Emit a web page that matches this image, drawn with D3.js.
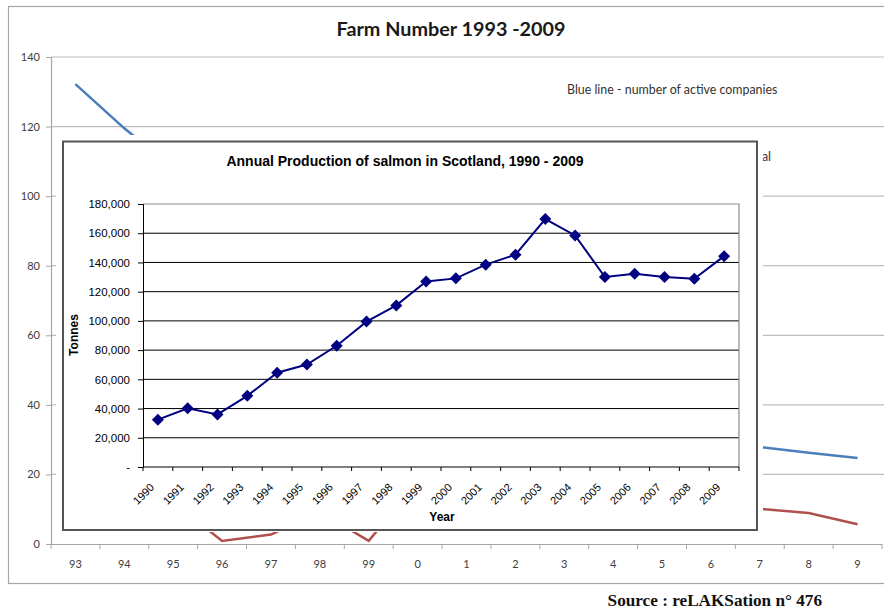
<!DOCTYPE html>
<html>
<head>
<meta charset="utf-8">
<script src="https://cdn.jsdelivr.net/npm/d3@7/dist/d3.min.js"></script>
<style>
  html, body { margin: 0; padding: 0; background: #fff; }
  svg { display: block; }
</style>
</head>
<body>
<svg id="chart" width="884" height="611"></svg>
<script>
// ---------- Background chart: Farm Number 1993-2009 ----------
const farmYears = ["93","94","95","96","97","98","99","0","1","2","3","4","5","6","7","8","9"];
const activeCompanies = [132.2, 119.5, 108, 96, 85, 74, 64, 55, 48, 42, 37, 34, 31.5, 29.5, 27.9, 26.2, 24.7];
const redSeries = [14, 9, 12, 0.9, 2.7, 9.2, 0.9, 18, 16, 14, 13, 12, 11.5, 11, 10.1, 8.9, 5.7];
const farmTicks = [0, 20, 40, 60, 80, 100, 120, 140];

// ---------- Inset chart: Annual Production of salmon ----------
const prodYears = ["1990","1991","1992","1993","1994","1995","1996","1997","1998","1999",
                   "2000","2001","2002","2003","2004","2005","2006","2007","2008","2009"];
const tonnes = [32400, 40200, 36000, 48700, 64500, 70100, 83000, 99500, 110600, 127000,
                129100, 138500, 145300, 169700, 158500, 130000, 132200, 130000, 128800, 144300];
const tonnesTicks = [0, 20000, 40000, 60000, 80000, 100000, 120000, 140000, 160000, 180000];

const svg = d3.select("#chart");
svg.append("rect").attr("width", 884).attr("height", 611).attr("fill", "#fff");

// outer frame
svg.append("rect").attr("x", 8.5).attr("y", 6.5).attr("width", 900).attr("height", 577)
  .attr("fill", "none").attr("stroke", "#a6a6a6").attr("stroke-width", 1.2);

const bgFont = "Lato, 'Open Sans', sans-serif";

svg.append("text").attr("x", 451).attr("y", 36).attr("text-anchor", "middle")
  .attr("font-family", bgFont).attr("font-weight", "bold").attr("font-size", 19.8)
  .attr("fill", "#1a1a1a").text("Farm Number 1993 -2009");

const fx = d3.scaleBand().domain(farmYears).range([51, 882]);
const fy = d3.scaleLinear().domain([0, 140]).range([544, 57]);

// gridlines
svg.append("g").selectAll("line").data(farmTicks.filter(d => d > 0)).join("line")
  .attr("x1", 51).attr("x2", 884).attr("y1", d => fy(d)).attr("y2", d => fy(d))
  .attr("stroke", "#bdbdbd").attr("stroke-width", 1.2);

// y axis
const fyAxis = svg.append("g").attr("transform", "translate(51,0)")
  .call(d3.axisLeft(fy).tickValues(farmTicks).tickSize(5).tickPadding(6));
fyAxis.select(".domain").attr("stroke", "#a6a6a6").attr("stroke-width", 1.2);
fyAxis.selectAll(".tick line").attr("stroke", "#a6a6a6");
fyAxis.selectAll("text").attr("font-family", bgFont).attr("font-size", 11).attr("fill", "#404040");

// x axis
const fxAxis = svg.append("g").attr("transform", "translate(0,544)")
  .call(d3.axisBottom(fx).tickSize(0).tickPadding(16));
fxAxis.select(".domain").attr("stroke", "#a6a6a6").attr("stroke-width", 1.2);
fxAxis.selectAll("text").attr("font-family", bgFont).attr("font-size", 11).attr("fill", "#404040");
svg.append("g").selectAll("line").data(farmYears).join("line")
  .attr("x1", d => fx(d)).attr("x2", d => fx(d)).attr("y1", 544).attr("y2", 549)
  .attr("stroke", "#a6a6a6");
svg.append("line").attr("x1", fx.range()[1]).attr("x2", fx.range()[1]).attr("y1", 544).attr("y2", 549)
  .attr("stroke", "#a6a6a6");

const fLine = d3.line().x((d, i) => fx(farmYears[i]) + fx.bandwidth() / 2).y(d => fy(d));
svg.append("path").datum(activeCompanies).attr("d", fLine)
  .attr("fill", "none").attr("stroke", "#4a7ebb").attr("stroke-width", 2.5);
svg.append("path").datum(redSeries).attr("d", fLine)
  .attr("fill", "none").attr("stroke", "#b0504d").attr("stroke-width", 2.5);

svg.append("text").attr("x", 567).attr("y", 94)
  .attr("font-family", bgFont).attr("font-size", 12.4).attr("fill", "#333")
  .text("Blue line - number of active companies");
svg.append("text").attr("x", 771).attr("y", 161).attr("text-anchor", "end")
  .attr("font-family", bgFont).attr("font-size", 12.4).attr("fill", "#333")
  .text("Red line - number of farms in general");

// ---------- Inset ----------
const inFont = "'Liberation Sans', Arial, sans-serif";
svg.append("rect").attr("x", 56).attr("y", 135).attr("width", 707).attr("height", 397).attr("fill", "#fff");
svg.append("rect").attr("x", 63).attr("y", 141.5).attr("width", 694).attr("height", 388.5)
  .attr("fill", "#fff").attr("stroke", "#555").attr("stroke-width", 2);

svg.append("text").attr("x", 405).attr("y", 166).attr("text-anchor", "middle")
  .attr("font-family", inFont).attr("font-weight", "bold").attr("font-size", 14)
  .attr("fill", "#000").text("Annual Production of salmon in Scotland, 1990 - 2009");

const px = d3.scaleBand().domain(prodYears).range([143, 739]);
const py = d3.scaleLinear().domain([0, 180000]).range([467, 204]);

// gridlines
svg.append("g").selectAll("line").data(tonnesTicks.filter(d => d > 0 && d < 180000)).join("line")
  .attr("x1", 143).attr("x2", 739).attr("y1", d => py(d)).attr("y2", d => py(d))
  .attr("stroke", "#000").attr("stroke-width", 1);
// plot area border top/right
svg.append("path").attr("d", `M143,${py(180000)}H739V${py(0)}`)
  .attr("fill", "none").attr("stroke", "#8c8c8c").attr("stroke-width", 1.2);

const pyAxis = svg.append("g").attr("transform", "translate(143,0)")
  .call(d3.axisLeft(py).tickValues(tonnesTicks).tickSize(5).tickPadding(8)
    .tickFormat(d => d === 0 ? "-" : d3.format(",")(d)));
pyAxis.select(".domain").attr("stroke", "#000");
pyAxis.selectAll(".tick line").attr("stroke", "#000");
pyAxis.selectAll("text").attr("font-family", inFont).attr("font-size", 11.5).attr("fill", "#000");

svg.append("line").attr("x1", 143).attr("x2", 739).attr("y1", py(0)).attr("y2", py(0))
  .attr("stroke", "#000").attr("stroke-width", 1);
svg.append("g").selectAll("line").data(prodYears.concat(["end"])).join("line")
  .attr("x1", (d, i) => i < prodYears.length ? px(d) : 739)
  .attr("x2", (d, i) => i < prodYears.length ? px(d) : 739)
  .attr("y1", py(0)).attr("y2", py(0) + 4).attr("stroke", "#000");

svg.append("g").selectAll("text").data(prodYears).join("text")
  .attr("transform", d => `translate(${px(d) + px.bandwidth() / 2 - 3},${py(0) + 21}) rotate(-45)`)
  .attr("text-anchor", "end").attr("font-family", inFont).attr("font-size", 11)
  .attr("fill", "#000").text(d => d);

svg.append("text").attr("transform", "translate(78,335) rotate(-90)").attr("text-anchor", "middle")
  .attr("font-family", inFont).attr("font-weight", "bold").attr("font-size", 12).text("Tonnes");
svg.append("text").attr("x", 442).attr("y", 521).attr("text-anchor", "middle")
  .attr("font-family", inFont).attr("font-weight", "bold").attr("font-size", 12).text("Year");

const pLine = d3.line().x((d, i) => px(prodYears[i]) + px.bandwidth() / 2).y(d => py(d));
svg.append("path").datum(tonnes).attr("d", pLine)
  .attr("fill", "none").attr("stroke", "#000080").attr("stroke-width", 2);
svg.append("g").selectAll("path").data(tonnes).join("path")
  .attr("transform", (d, i) => `translate(${px(prodYears[i]) + px.bandwidth() / 2},${py(d)})`)
  .attr("d", "M0,-6L6,0L0,6L-6,0Z").attr("fill", "#000080");

// source
svg.append("text").attr("x", 822).attr("y", 606).attr("text-anchor", "end")
  .attr("font-family", "'Liberation Serif', 'Times New Roman', serif").attr("font-weight", "bold")
  .attr("font-size", 17.2).attr("fill", "#111").text("Source : reLAKSation n° 476");
</script>
</body>
</html>
